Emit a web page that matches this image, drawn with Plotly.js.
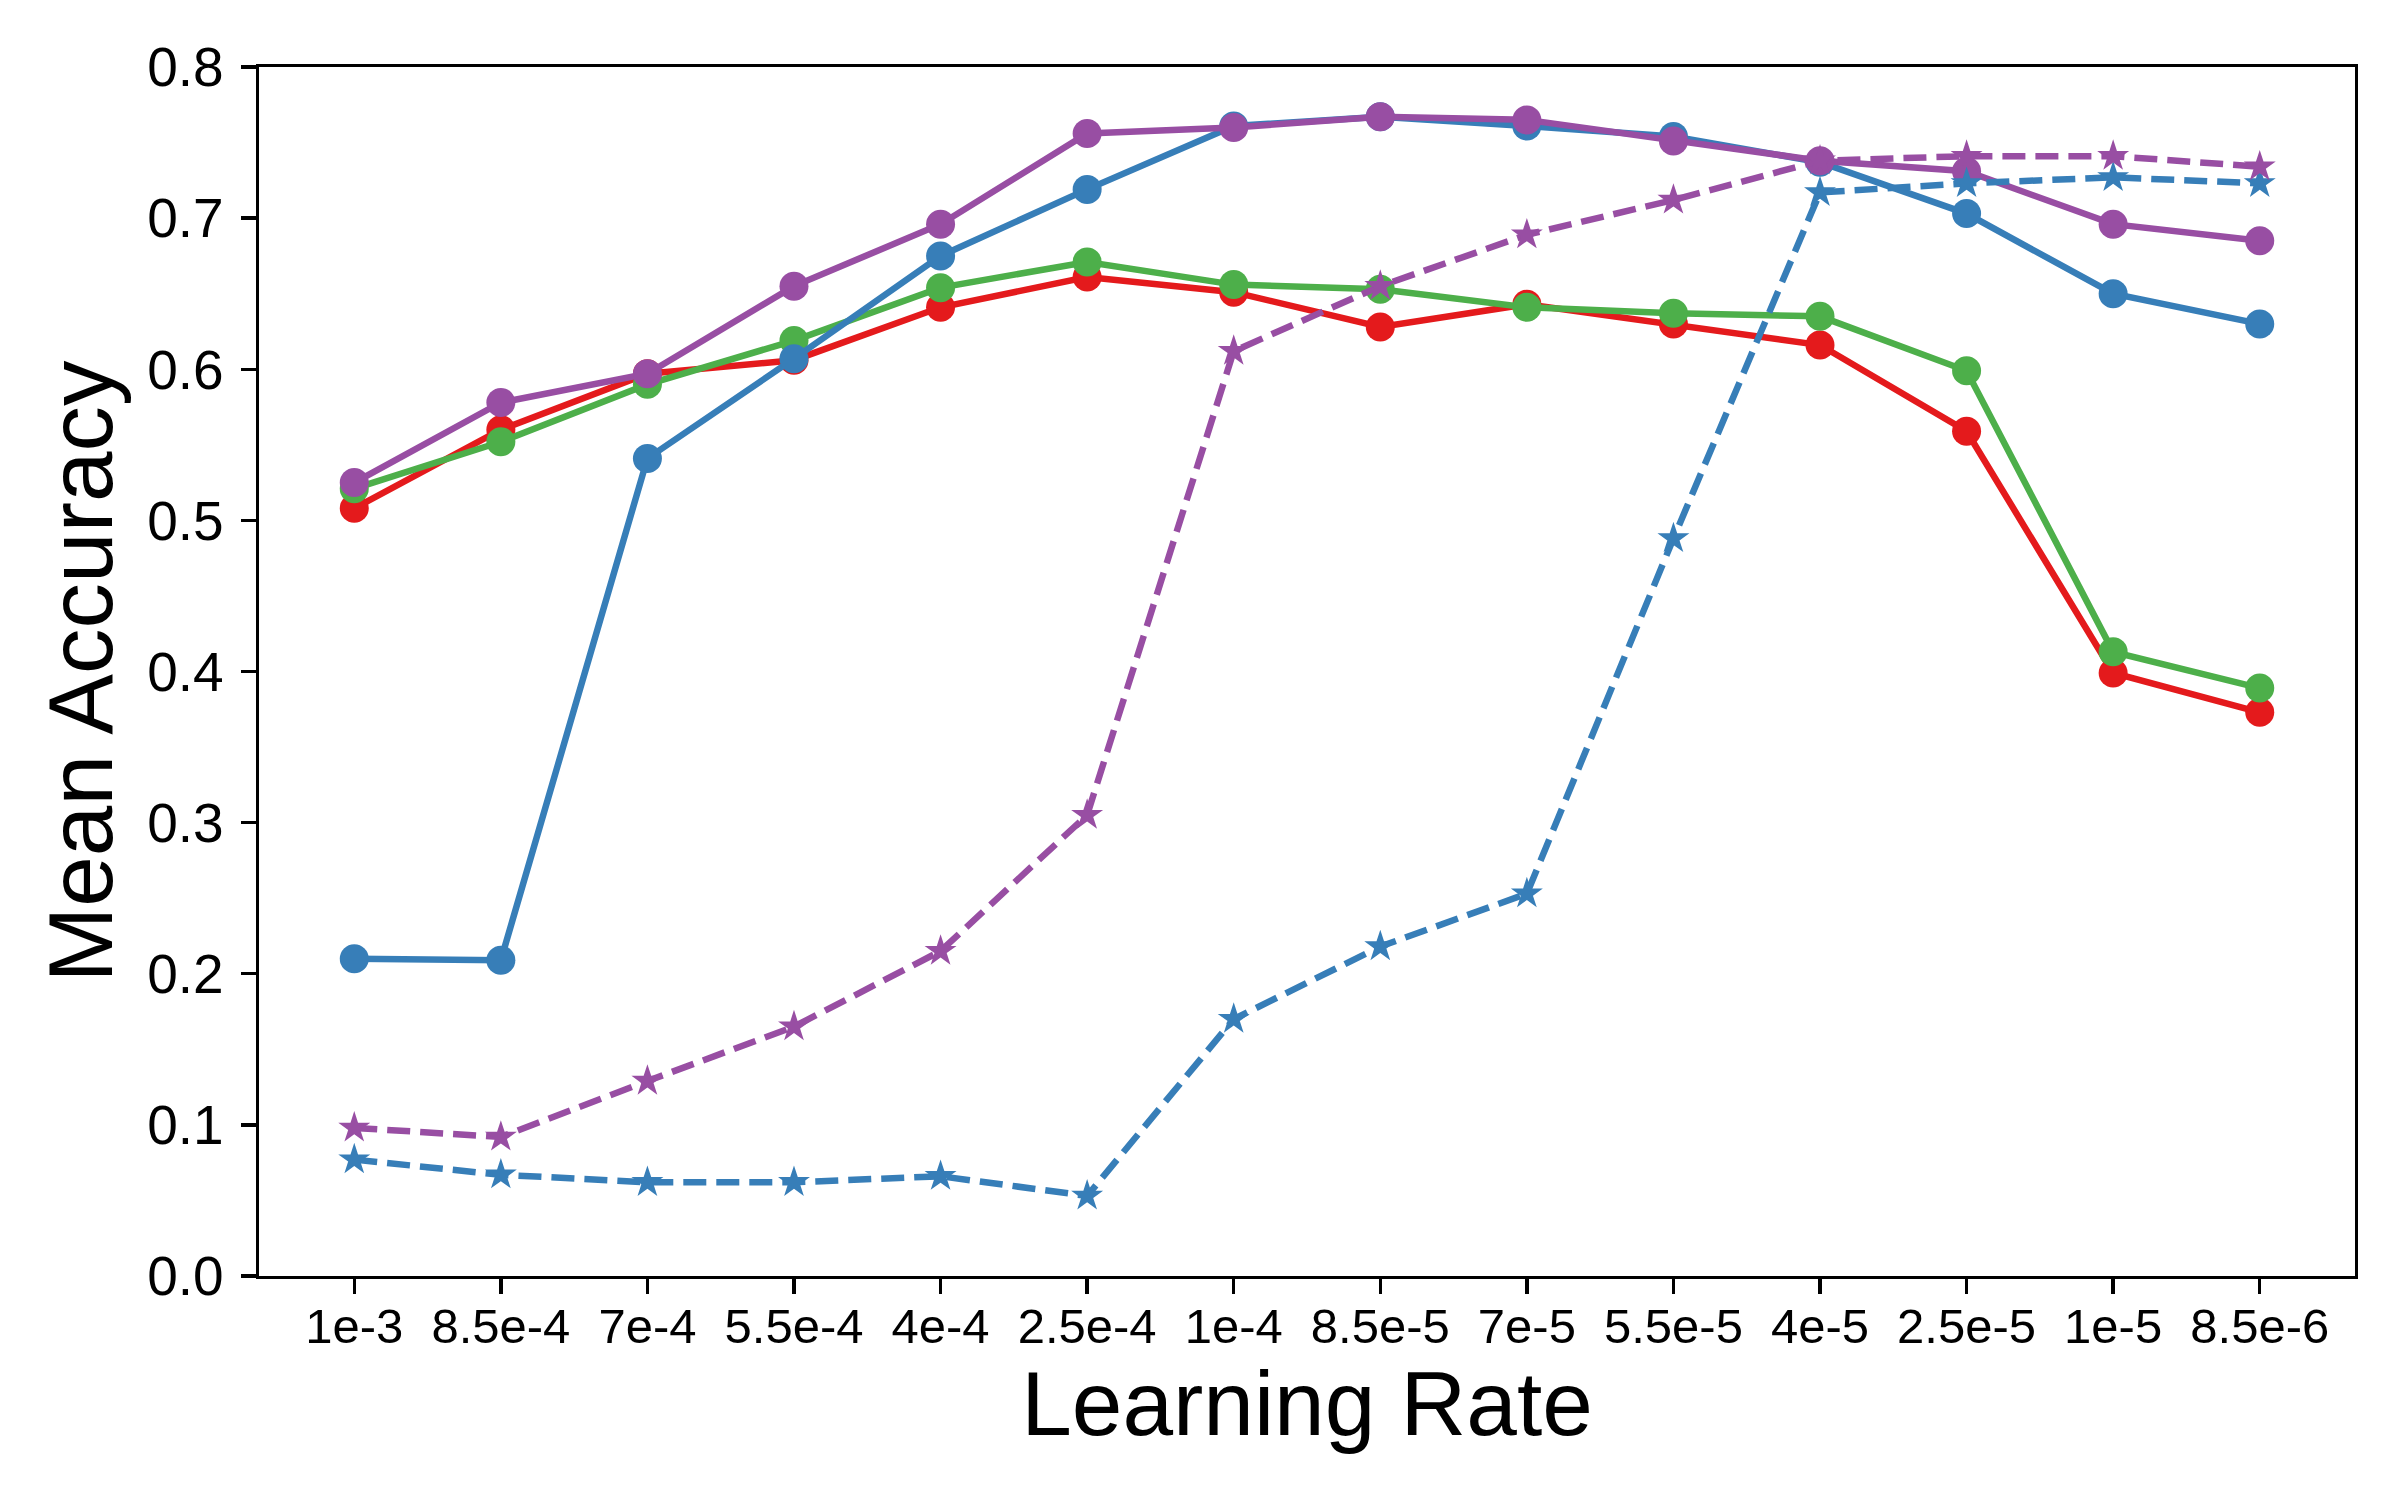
<!DOCTYPE html>
<html>
<head>
<meta charset="utf-8">
<script src="https://cdn.plot.ly/plotly-3.0.1.min.js"></script>
<style>
  html, body { margin: 0; padding: 0; background: #ffffff; }
  #chart { width: 2400px; height: 1500px; }
</style>
</head>
<body>
<div id="chart"></div>
<script>
// ---- data ----
const learningRates = ["1e-3", "8.5e-4", "7e-4", "5.5e-4", "4e-4", "2.5e-4", "1e-4",
                       "8.5e-5", "7e-5", "5.5e-5", "4e-5", "2.5e-5", "1e-5", "8.5e-6"];

const redSolid    = [0.508, 0.560, 0.597, 0.606, 0.641, 0.661, 0.651, 0.628, 0.643, 0.630, 0.616, 0.559, 0.399, 0.373];
const greenSolid  = [0.521, 0.552, 0.590, 0.619, 0.654, 0.671, 0.656, 0.653, 0.641, 0.637, 0.635, 0.599, 0.413, 0.389];
const blueSolid   = [0.210, 0.209, 0.541, 0.607, 0.675, 0.719, 0.761, 0.767, 0.761, 0.754, 0.737, 0.703, 0.650, 0.630];
const purpleSolid = [0.525, 0.578, 0.597, 0.655, 0.696, 0.756, 0.760, 0.767, 0.765, 0.751, 0.738, 0.731, 0.696, 0.685];
const blueDashed  = [0.077, 0.067, 0.062, 0.062, 0.066, 0.053, 0.170, 0.218, 0.253, 0.488, 0.717, 0.723, 0.727, 0.723];
const purpleDashed= [0.098, 0.092, 0.129, 0.165, 0.215, 0.305, 0.612, 0.655, 0.689, 0.712, 0.738, 0.741, 0.741, 0.734];

const yTickVals = [0.0, 0.1, 0.2, 0.3, 0.4, 0.5, 0.6, 0.7, 0.8];

// ---- styling ----
const RED = "#e41a1c", BLUE = "#377eb8", GREEN = "#4daf4a", PURPLE = "#984ea3";
const LW = 6.5;
const FONT = "Liberation Sans, Arial, Helvetica, sans-serif";

function solid(y, color, name) {
  return {
    x: learningRates, y: y, type: "scatter", mode: "lines+markers", name: name,
    line: { color: color, width: LW },
    marker: { symbol: "circle", size: 29, color: color, line: { width: 0 } }
  };
}
function dashed(y, color, name) {
  return {
    x: learningRates, y: y, type: "scatter", mode: "lines+markers", name: name,
    line: { color: color, width: LW, dash: "23px,10px" },
    marker: { symbol: "star", size: 24, color: color, line: { width: 0 } }
  };
}

const traces = [
  solid(redSolid, RED, "red"),
  solid(greenSolid, GREEN, "green"),
  solid(blueSolid, BLUE, "blue"),
  solid(purpleSolid, PURPLE, "purple"),
  dashed(blueDashed, BLUE, "blue dashed"),
  dashed(purpleDashed, PURPLE, "purple dashed")
];

const layout = {
  width: 2400, height: 1500,
  margin: { l: 259, r: 45, t: 67, b: 224, pad: 0 },
  paper_bgcolor: "#ffffff", plot_bgcolor: "#ffffff",
  showlegend: false,
  font: { family: FONT, color: "#000000" },
  xaxis: {
    type: "category",
    categoryorder: "array", categoryarray: learningRates,
    range: [-0.65, 13.65],
    showgrid: false, zeroline: false,
    showline: true, linecolor: "#000000", linewidth: 3.3, mirror: true,
    ticks: "outside", ticklen: 15, tickwidth: 3.3, tickcolor: "#000000",
    tickfont: { family: FONT, size: 49, color: "#000000" },
    ticklabelstandoff: -10,
    title: { text: "Learning Rate", font: { family: FONT, size: 91, color: "#000000" }, standoff: 20 }
  },
  yaxis: {
    range: [0, 0.8],
    tickmode: "array", tickvals: yTickVals,
    ticktext: yTickVals.map(v => v.toFixed(1)),
    showgrid: false, zeroline: false,
    showline: true, linecolor: "#000000", linewidth: 3.3, mirror: true,
    ticks: "outside", ticklen: 15, tickwidth: 3.3, tickcolor: "#000000",
    tickfont: { family: FONT, size: 55, color: "#000000" },
    ticklabelstandoff: 6,
    title: { text: "Mean Accuracy", font: { family: FONT, size: 91, color: "#000000" }, standoff: 5 }
  }
};

Plotly.newPlot("chart", traces, layout, { displayModeBar: false, staticPlot: true });
</script>
</body>
</html>
